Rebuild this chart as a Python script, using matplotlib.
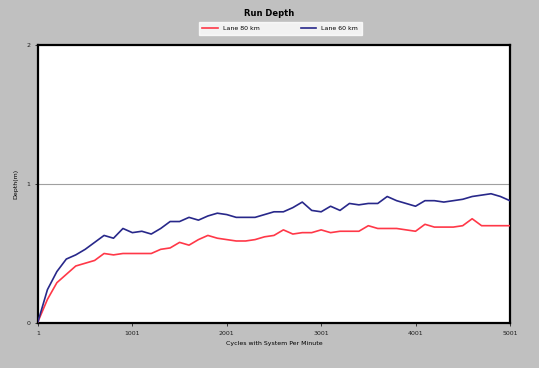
import matplotlib
matplotlib.use('Agg')
from matplotlib import pyplot as plt
import numpy as np

# cycles (x) sampled every 100
cycles = np.arange(1, 5002, 100)

lane_80 = [0.01, 0.17, 0.29, 0.35, 0.41, 0.43, 0.45, 0.50, 0.49, 0.50,
           0.50, 0.50, 0.50, 0.53, 0.54, 0.58, 0.56, 0.60, 0.63, 0.61,
           0.60, 0.59, 0.59, 0.60, 0.62, 0.63, 0.67, 0.64, 0.65, 0.65,
           0.67, 0.65, 0.66, 0.66, 0.66, 0.70, 0.68, 0.68, 0.68, 0.67,
           0.66, 0.71, 0.69, 0.69, 0.69, 0.70, 0.75, 0.70, 0.70, 0.70, 0.70]

lane_60 = [0.01, 0.24, 0.37, 0.46, 0.49, 0.53, 0.58, 0.63, 0.61, 0.68,
           0.65, 0.66, 0.64, 0.68, 0.73, 0.73, 0.76, 0.74, 0.77, 0.79,
           0.78, 0.76, 0.76, 0.76, 0.78, 0.80, 0.80, 0.83, 0.87, 0.81,
           0.80, 0.84, 0.81, 0.86, 0.85, 0.86, 0.86, 0.91, 0.88, 0.86,
           0.84, 0.88, 0.88, 0.87, 0.88, 0.89, 0.91, 0.92, 0.93, 0.91, 0.88]

xtick_vals = [1, 1001, 2001, 3001, 4001, 5001]
ytick_vals = [0, 1, 2]

fig = plt.figure(figsize=(5.39, 3.68), dpi=100, facecolor='#c0c0c0')
ax = fig.add_axes([0.0705, 0.1223, 0.8755, 0.7554])
ax.set_facecolor('white')

ax.axhline(1, color='#a0a0a0', lw=0.8, zorder=1)
ax.plot(cycles, lane_80, color='#ff3848', lw=1.2, label='Lane 80 km', zorder=3)
ax.plot(cycles, lane_60, color='#28288a', lw=1.2, label='Lane 60 km', zorder=3)

ax.set_xlim(1, 5001)
ax.set_ylim(0, 2)
ax.set_xticks(xtick_vals)
ax.set_yticks(ytick_vals)
ax.tick_params(labelsize=4.5, length=2, width=0.6, colors='#202020')
for s in ax.spines.values():
    s.set_linewidth(1.6)
    s.set_color('black')

ax.set_xlabel('Cycles with System Per Minute', fontsize=4.5)
ax.set_ylabel('Depth(m)', fontsize=4.5, labelpad=6)
fig.suptitle('Run Depth', fontsize=6, fontweight='bold', y=0.975)

fig.legend(loc='upper center', bbox_to_anchor=(0.52, 0.94), ncol=2, fontsize=4.5,
           frameon=True, fancybox=False, edgecolor='white', facecolor='white',
           handlelength=2.5, columnspacing=6.5, borderpad=0.6, borderaxespad=0)

fig.savefig('out.png', dpi=100, facecolor=fig.get_facecolor())
